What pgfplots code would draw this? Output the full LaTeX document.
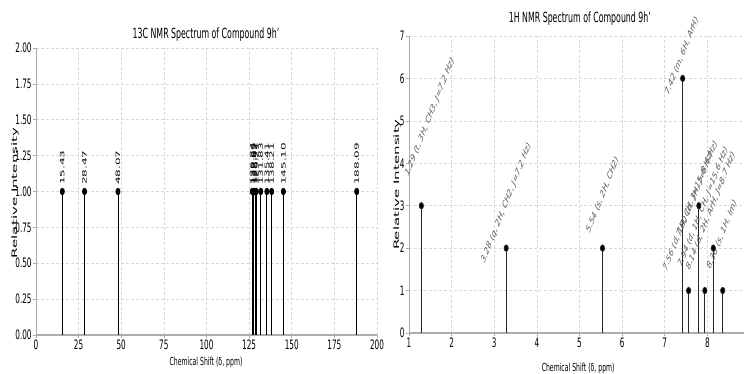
\documentclass[border=0pt]{standalone}
\usepackage{fontspec}
\setmainfont{DejaVu Sans}[FakeStretch=0.56]
\newfontfamily\vfont{DejaVu Sans}[FakeStretch=2.0]
\newfontfamily\lfont{DejaVu Sans}
\usepackage{pgfplots}
\pgfplotsset{compat=1.18}
\pgfplotsset{nmr/.style={
  scale only axis,
  axis x line=bottom, axis y line=left,
  axis line style={-, gray!65, line width=0.9pt},
  x axis line style={line width=1.6pt},
  tick align=outside, major tick length=3pt,
  tick style={gray!65, line width=0.6pt},
  grid=major, major grid style={densely dashed, gray!30, line width=0.6pt},
  tick label style={font=\fontsize{13}{14}\selectfont},
  yticklabel style={inner xsep=1.2pt},
  xticklabel style={inner ysep=2pt},
  /pgf/number format/assume math mode=true,
  clip=false,
  every axis title shift=0pt,
  title style={font=\fontsize{14}{16}\selectfont, anchor=center},
  xlabel style={font=\fontsize{11}{12}\selectfont, anchor=center},
  ylabel style={font=\vfont\fontsize{7.5}{9}\selectfont, anchor=center},
}}
\tikzset{
  clab/.style={font=\vfont\fontsize{6}{7}\selectfont, rotate=90, anchor=west, inner sep=0pt},
  hlab/.style={font=\lfont\itshape\fontsize{10}{12}\selectfont, text=black!65, xscale=0.68, rotate=60, transform shape, anchor=center, inner sep=0pt},
}
\begin{document}
\begin{tikzpicture}
\path[use as bounding box] (0,0) rectangle (744pt,374pt);
% ---------- 13C ----------
\begin{axis}[nmr,
  at={(36pt,39pt)}, anchor=south west,
  width=341pt, height=287pt,
  xmin=0, xmax=200, ymin=0, ymax=2,
  xtick={0,25,...,200}, ytick={0,0.25,...,2},
  yticklabel style={/pgf/number format/.cd, fixed, fixed zerofill, precision=2},
  title={13C NMR Spectrum of Compound 9h'},
  title style={at={(axis description cs:0.4985,1.045)}},
  xlabel={Chemical Shift (δ, ppm)},
  xlabel style={at={(axis description cs:0.4985,-0.094)}},
  ylabel={Relative Intensity},
  ylabel style={at={(axis description cs:-0.0615,0.495)}},
]
\addplot[ycomb, black, line width=0.8pt, mark=*, mark size=3.2pt, mark options={xscale=0.65, fill=black}] coordinates {
(15.43,1) (28.47,1) (48.07,1) (126.84,1) (127.65,1) (128.42,1) (129.21,1) (131.83,1) (135.41,1) (138.21,1) (145.10,1) (188.09,1)};
\node[clab] at (axis cs:15.43,1.045) {15.43};
\node[clab] at (axis cs:28.47,1.045) {28.47};
\node[clab] at (axis cs:48.07,1.045) {48.07};
\node[clab] at (axis cs:126.84,1.045) {126.84};
\node[clab] at (axis cs:127.65,1.045) {127.65};
\node[clab] at (axis cs:128.42,1.045) {128.42};
\node[clab] at (axis cs:129.21,1.045) {129.21};
\node[clab] at (axis cs:131.83,1.045) {131.83};
\node[clab] at (axis cs:135.41,1.045) {135.41};
\node[clab] at (axis cs:138.21,1.045) {138.21};
\node[clab] at (axis cs:145.10,1.045) {145.10};
\node[clab] at (axis cs:188.09,1.045) {188.09};
\end{axis}
% ---------- 1H ----------
\begin{axis}[nmr,
  at={(409pt,41pt)}, anchor=south west,
  width=335pt, height=297pt,
  xmin=1, xmax=8.86, ymin=0, ymax=7,
  xtick={1,...,8}, ytick={0,...,7},
  title={1H NMR Spectrum of Compound 9h'},
  title style={at={(axis description cs:0.51,1.06)}},
  xlabel={Chemical Shift (δ, ppm)},
  xlabel style={at={(axis description cs:0.505,-0.118)}},
  ylabel={Relative Intensity},
  ylabel style={at={(axis description cs:-0.036,0.50)}},
]
\addplot[ycomb, black!85, line width=0.8pt, mark=*, mark size=3.2pt, mark options={xscale=0.65, fill=black}] coordinates {
(1.29,3) (3.28,2) (5.54,2) (7.42,6) (7.56,1) (7.80,3) (7.94,1) (8.14,2) (8.36,1)};
\node[hlab] at (axis cs:1.49,5.09) {1.29 (t, 3H, CH3, J=7.2 Hz)};
\node[hlab] at (axis cs:3.28,3.06) {3.28 (q, 2H, CH2, J=7.2 Hz)};
\node[hlab] at (axis cs:5.54,3.25) {5.54 (s, 2H, CH2)};
\node[hlab] at (axis cs:7.40,6.53) {7.42 (m, 6H, ArH)};
\node[hlab] at (axis cs:7.55,2.88) {7.56 (d, 1H, CH, J=15.6 Hz)};
\node[hlab] at (axis cs:7.76,3.39) {7.80 (d, 3H, J=8.6 Hz)};
\node[hlab] at (axis cs:7.90,2.97) {7.94 (d, 1H, CH, J=15.6 Hz)};
\node[hlab] at (axis cs:8.08,2.88) {8.14 (d, 2H, ArH, J=8.7 Hz)};
\node[hlab] at (axis cs:8.34,2.32) {8.36 (s, 1H, Im)};
\end{axis}
\end{tikzpicture}
\end{document}
